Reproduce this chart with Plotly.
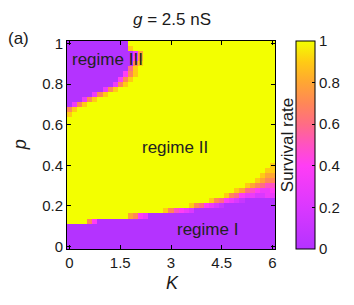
import plotly.graph_objects as go

# Sampling grid of the simulation (K = 0:0.15:6, p = 0:0.025:1)
K_values = [round(0.15 * i, 3) for i in range(41)]
p_values = [round(0.025 * j, 4) for j in range(41)]

x_tick_vals = [0, 1.5, 3, 4.5, 6]
x_tick_text = ["0", "1.5", "3", "4.5", "6"]
y_tick_vals = [0, 0.2, 0.4, 0.6, 0.8, 1]
y_tick_text = ["0", "0.2", "0.4", "0.6", "0.8", "1"]
cb_tick_vals = [0, 0.2, 0.4, 0.6, 0.8, 1]
cb_tick_text = ["0", "0.2", "0.4", "0.6", "0.8", "1"]

# Survival rate, one string per p row (bottom -> top),
# one character per K column: "0".."9" = 0.0..0.9, "X" = 1.0
survival_rows = [
    "0" * 41,                                            # p = 0.000
    "0" * 41,
    "0" * 41,
    "0" * 41,
    "0" * 41,                                            # p = 0.100
    "X" * 4 + "74" + "0" * 35,
    "X" * 12 + "8743" + "0" * 25,
    "X" * 19 + "975432" + "0" * 16,
    "X" * 24 + "9764321" + "0" * 10,                     # p = 0.200
    "X" * 28 + "9764321" + "0" * 6,
    "X" * 31 + "9764332233",
    "X" * 33 + "98654334",
    "X" * 35 + "987655",                                 # p = 0.300
    "X" * 37 + "9877",
    "X" * 38 + "988",
    "X" * 39 + "99",
    "X" * 40 + "9",                                      # p = 0.400
    "X" * 41,
    "X" * 41,
    "X" * 41,
    "X" * 41,                                            # p = 0.500
    "X" * 41,
    "X" * 41,
    "X" * 41,
    "X" * 41,                                            # p = 0.600
    "X" * 41,
    "9" + "X" * 40,
    "79" + "X" * 39,
    "0" + "379" + "X" * 37,                              # p = 0.700
    "0" * 3 + "379" + "X" * 35,
    "0" * 5 + "379" + "X" * 33,
    "0" * 7 + "379" + "X" * 31,
    "0" * 9 + "379" + "X" * 29,                          # p = 0.800
    "0" * 10 + "479" + "X" * 28,
    "0" * 11 + "479" + "X" * 27,
    "0" * 12 + "69" + "X" * 27,
    "0" * 13 + "79" + "X" * 26,                          # p = 0.900
    "0" * 13 + "48" + "X" * 26,
    "0" * 13 + "38" + "X" * 26,
    "0" * 12 + "9" + "X" * 28,
    "0" * 12 + "X" * 29,                                 # p = 1.000
]
code_values = {str(d): d / 10 for d in range(10)}
code_values["X"] = 1.0

z = []
for row in survival_rows:
    row = (row + row[-1] * 41)[:41]
    z.append([code_values[c] for c in row])

colorscale = [
    [0.0, "#B433FF"],
    [0.2, "#DA38FF"],
    [0.4, "#FF3DF5"],
    [0.5, "#FF52C2"],
    [0.6, "#FF6C85"],
    [0.7, "#FF8757"],
    [0.8, "#FFA633"],
    [0.9, "#FFCB14"],
    [1.0, "#F3FF00"],
]

font_family = "Liberation Sans, Arial, Helvetica, sans-serif"
ink = "#1a1a1a"

# The page body keeps its default 8 px margin, so the figure is drawn 8 px
# smaller and the plot box placed so it lands at the reference position.
OFF = 8
PL, PT, PW, PH = 67 - OFF, 41 - OFF, 208, 207.6   # plot box in figure px
FW, FH = 354 - OFF, 305 - OFF


def px_x(x):   # page x pixel -> paper x
    return (x - OFF - PL) / PW


def px_y(y):   # page y pixel -> paper y
    return 1 - (y - OFF - PT) / PH


fig = go.Figure(
    go.Heatmap(
        x=K_values,
        y=p_values,
        z=z,
        zmin=0,
        zmax=1,
        colorscale=colorscale,
        zsmooth=False,
        hoverinfo="skip",
        colorbar=dict(
            x=px_x(296),
            xanchor="left",
            xpad=0,
            y=0.5,
            yanchor="middle",
            len=1,
            lenmode="fraction",
            ypad=0,
            thickness=19,
            thicknessmode="pixels",
            outlinewidth=1,
            outlinecolor="black",
            tickvals=cb_tick_vals,
            ticktext=cb_tick_text,
            ticks="inside",
            ticklen=3,
            tickcolor="black",
            tickfont=dict(size=15, color=ink, family=font_family),
        ),
    )
)

axis_common = dict(
    showgrid=False,
    zeroline=False,
    showline=True,
    linecolor="black",
    linewidth=1,
    mirror="ticks",
    ticks="inside",
    ticklen=4,
    tickcolor="black",
    tickfont=dict(size=15, color=ink, family=font_family),
)

fig.update_xaxes(
    range=[-0.075, 6.075],
    tickvals=x_tick_vals,
    ticktext=x_tick_text,
    automargin=False,
    **axis_common,
)
fig.update_yaxes(
    range=[-0.0125, 1.0125],
    tickvals=y_tick_vals,
    ticktext=y_tick_text,
    automargin=False,
    **axis_common,
)

annotations = [
    dict(text="<i>g</i> = 2.5 nS", x=px_x(172), y=px_y(20), size=17),
    dict(text="(a)", x=px_x(18), y=px_y(39), size=17),
    dict(text="<i>p</i>", x=px_x(20), y=px_y(145), size=18, angle=-90),
    dict(text="<i>K</i>", x=px_x(172), y=px_y(283), size=18),
    dict(text="Survival rate", x=px_x(287), y=px_y(145), size=17, angle=-90),
]
for a in annotations:
    fig.add_annotation(
        text=a["text"], x=a["x"], y=a["y"], xref="paper", yref="paper",
        xanchor="center", yanchor="middle", showarrow=False,
        textangle=a.get("angle", 0),
        font=dict(size=a["size"], color=ink, family=font_family),
    )

regime_labels = [
    ("regime III", 1.11, 0.92),
    ("regime II", 3.13, 0.49),
    ("regime I", 4.08, 0.085),
]
for txt, kx, py in regime_labels:
    fig.add_annotation(
        text=txt, x=kx, y=py, xref="x", yref="y", showarrow=False,
        xanchor="center", yanchor="middle",
        font=dict(size=17, color="#222222", family=font_family),
    )

fig.update_layout(
    width=FW,
    height=FH,
    autosize=False,
    margin=dict(l=PL, r=FW - PL - PW, t=PT, b=FH - PT - PH, autoexpand=False),
    paper_bgcolor="white",
    plot_bgcolor="white",
    showlegend=False,
    font=dict(family=font_family, color=ink),
)

fig.write_html("out.html")
